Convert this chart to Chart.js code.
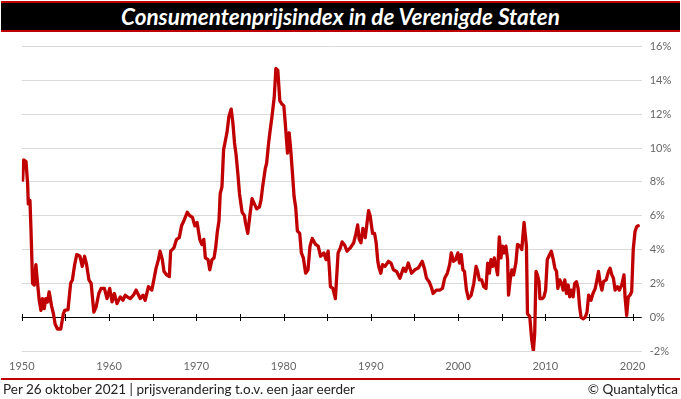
<!DOCTYPE html>
<html><head><meta charset="utf-8">
<script src="https://cdn.jsdelivr.net/npm/chart.js@4"></script>
<style>
html,body{margin:0;padding:0;background:#fff;}
#wrap{position:relative;width:681px;height:399px;overflow:hidden;font-family:Lato,sans-serif;}
#c{position:absolute;left:0;top:0;}
#title{position:absolute;left:1px;top:1px;width:679px;height:27px;background:#000;border-top:2px solid #c00000;border-bottom:2px solid #c00000;color:#fff;font:italic bold 22.5px Lato,sans-serif;text-align:center;line-height:27px;white-space:nowrap;}
#footline{position:absolute;left:1px;top:378px;width:679px;height:2px;background:#c00000;}
#foot{position:absolute;left:3px;top:380px;width:675px;height:19px;line-height:19px;font-size:13.5px;color:#222;white-space:nowrap;}
#foot span{position:absolute;right:0;top:0;}
</style></head>
<body>
<div id="wrap">
<canvas id="c" width="681" height="399"></canvas>
<div id="title">Consumentenprijsindex in de Verenigde Staten</div>
<div id="footline"></div>
<div id="foot">Per 26 oktober 2021 | prijsverandering t.o.v. een jaar eerder<span>© Quantalytica</span></div>
</div>
<script>
// plotted position along the year axis
const xPos = [
1950.10,1950.22,1950.49,1950.67,1950.75,1950.94,1951.05,1951.24,1951.43,1951.62,1951.81,
1952.00,1952.20,1952.38,1952.57,1952.76,1952.95,1953.14,1953.40,1953.63,1953.82,1954.09,
1954.47,1954.77,1954.93,1955.30,1955.60,1955.80,1956.06,1956.30,1956.67,1956.93,1957.20,
1957.43,1957.70,1957.95,1958.26,1958.52,1958.83,1959.09,1959.47,1959.77,1960.08,1960.35,
1960.61,1960.91,1961.29,1961.60,1961.86,1962.10,1962.43,1962.80,1963.11,1963.57,1963.90,
1964.14,1964.52,1964.90,1965.17,1965.39,1965.66,1965.85,1966.11,1966.30,1966.60,1966.91,
1967.06,1967.44,1967.74,1968.05,1968.31,1968.58,1968.96,1969.26,1969.56,1969.83,1970.09,
1970.40,1970.63,1970.86,1971.04,1971.35,1971.54,1971.80,1972.03,1972.22,1972.40,1972.60,
1972.74,1972.94,1973.13,1973.36,1973.54,1973.73,1974.00,1974.19,1974.38,1974.56,1974.76,
1974.95,1975.25,1975.52,1975.63,1975.90,1976.16,1976.39,1976.66,1976.92,1977.23,1977.41,
1977.60,1977.91,1978.06,1978.29,1978.43,1978.66,1978.93,1979.12,1979.34,1979.57,1979.80,
1980.03,1980.19,1980.45,1980.64,1980.82,1981.02,1981.21,1981.39,1981.58,1981.85,1982.04,
1982.27,1982.53,1982.80,1983.03,1983.29,1983.67,1983.97,1984.24,1984.62,1984.88,1985.11,
1985.26,1985.37,1985.65,1985.94,1986.25,1986.51,1986.71,1987.01,1987.27,1987.65,1988.04,
1988.30,1988.49,1988.67,1988.87,1989.09,1989.36,1989.55,1989.74,1989.92,1990.20,1990.43,
1990.61,1990.80,1990.95,1991.14,1991.34,1991.63,1992.02,1992.31,1992.59,1992.96,1993.34,
1993.73,1993.99,1994.29,1994.67,1995.04,1995.43,1995.89,1996.18,1996.38,1996.68,1996.95,
1997.14,1997.51,1997.89,1998.21,1998.46,1998.77,1999.03,1999.22,1999.48,1999.71,1999.98,
2000.16,2000.36,2000.55,2000.73,2000.96,2001.19,2001.50,2001.80,2002.06,2002.25,2002.44,
2002.71,2002.94,2003.20,2003.39,2003.58,2003.77,2003.96,2004.15,2004.34,2004.53,2004.72,
2004.91,2005.10,2005.28,2005.48,2005.67,2005.78,2005.97,2006.16,2006.36,2006.62,2006.81,
2007.10,2007.30,2007.56,2007.83,2007.95,2008.21,2008.44,2008.63,2008.78,2008.93,2009.09,
2009.27,2009.38,2009.65,2009.84,2010.03,2010.22,2010.40,2010.68,2010.91,2011.09,2011.28,
2011.43,2011.66,2011.85,2012.04,2012.23,2012.42,2012.61,2012.79,2012.99,2013.18,2013.36,
2013.56,2013.75,2013.93,2014.09,2014.32,2014.58,2014.77,2014.96,2015.23,2015.46,2015.72,
2015.91,2016.09,2016.29,2016.48,2016.66,2016.97,2017.23,2017.42,2017.62,2017.80,2017.99,
2018.25,2018.48,2018.75,2019.01,2019.13,2019.32,2019.50,2019.70,2019.89,2020.07,2020.27,
2020.46,2020.64
];
// year-on-year CPI change, %
const cpi = [
8.1,9.3,9.2,7.9,6.7,6.9,5.3,2.0,1.9,3.1,2.0,
1.0,0.4,1.1,0.5,1.1,0.9,1.5,0.7,0.2,-0.4,-0.7,
-0.7,0.2,0.4,0.45,2.0,2.2,3.1,3.7,3.6,3.0,3.6,
3.1,2.2,2.0,0.3,0.6,1.4,1.7,1.7,1.1,1.7,0.9,
1.4,0.8,1.2,1.0,1.3,1.2,1.1,1.3,1.6,1.1,1.3,
1.0,1.8,1.6,2.3,2.9,3.4,3.9,3.4,2.7,2.5,2.4,
3.9,4.1,4.6,4.7,5.4,5.7,6.2,6.0,5.9,5.4,5.6,
4.6,4.3,4.6,3.5,3.4,2.8,3.4,3.5,4.1,5.0,5.7,
7.3,7.7,9.9,10.5,11.0,11.85,12.3,11.5,10.3,9.6,8.5,
7.3,6.2,6.0,5.6,4.95,6.1,7.0,6.7,6.4,6.5,6.9,
7.7,8.8,9.1,10.3,10.9,11.8,13.0,14.7,14.6,12.8,12.6,
12.5,11.5,9.7,10.9,9.9,8.5,7.1,6.5,5.1,4.95,3.8,
3.5,2.6,2.8,4.2,4.65,4.3,4.2,3.6,3.8,3.4,3.9,
2.8,1.8,1.7,1.1,3.8,4.1,4.45,4.25,3.9,4.1,4.4,
4.95,5.45,4.6,4.4,5.25,4.7,5.5,6.3,6.0,4.95,4.95,
4.4,3.3,2.9,2.6,3.1,3.0,3.3,3.2,2.8,2.7,2.3,
2.9,2.7,3.2,2.6,2.8,2.9,3.3,2.8,2.3,2.1,1.75,
1.4,1.6,1.6,1.7,2.3,2.6,3.1,3.8,3.3,3.4,3.8,
3.2,3.7,2.8,2.7,1.6,1.1,1.3,2.0,3.0,2.7,2.2,
2.2,1.8,1.7,3.2,2.6,3.4,3.0,3.5,3.0,2.5,4.75,
3.5,4.2,3.8,4.2,3.4,1.3,2.2,2.8,2.5,3.2,4.3,
4.2,4.0,5.6,4.2,0.2,0.05,-1.35,-2.0,-0.95,2.7,2.5,
2.1,1.1,1.1,1.2,1.6,3.4,3.6,3.9,3.4,2.9,2.7,
1.7,2.2,2.0,1.6,2.2,1.4,1.9,1.2,1.6,1.2,2.0,
2.1,1.7,0.6,0.0,-0.1,0.0,0.3,1.3,1.0,1.4,1.7,
2.2,2.7,2.0,1.6,2.1,2.2,2.7,2.9,2.5,2.3,1.6,
1.8,1.6,1.9,2.5,1.2,0.1,1.2,1.3,1.5,4.0,5.05,
5.35,5.4
];
const yearTicks = [1950,1960,1970,1980,1990,2000,2010,2020];
const zeroTicks = [1950,1955,1960,1965,1970,1975,1980,1985,1990,1995,2000,2005,2010,2015,2020];
const yMin = -2, yMax = 16, yStep = 2;

const zeroLine = {
  id:'zeroLine',
  beforeDatasetsDraw(chart){
    const {ctx, scales:{x, y}} = chart;
    const y0 = Math.round(y.getPixelForValue(0)) + 0.5;
    ctx.save();
    ctx.strokeStyle = '#000';
    ctx.lineWidth = 1;
    ctx.beginPath();
    ctx.moveTo(x.left, y0);
    ctx.lineTo(x.right, y0);
    zeroTicks.forEach(v => {
      const px = Math.round(x.getPixelForValue(v)) + 0.5;
      ctx.moveTo(px, y0 - 3.5);
      ctx.lineTo(px, y0 + 3.5);
    });
    ctx.stroke();
    ctx.restore();
  }
};

function make(){
  const tickFont = {family:'Lato', size:11};
  new Chart(document.getElementById('c'), {
    type:'line',
    data:{datasets:[{
      data: xPos.map((x, i) => ({x, y: cpi[i]})),
      borderColor:'#c00000', borderWidth:3.3, pointRadius:0, tension:0,
      borderJoinStyle:'round', borderCapStyle:'round', fill:false
    }]},
    options:{
      responsive:false, animation:false, events:[],
      layout:{padding:{left:17.4, top:46.5, right:0, bottom:0}},
      plugins:{legend:{display:false}, tooltip:{enabled:false}, title:{display:false}},
      scales:{
        x:{
          type:'linear', min:1950, max:2021.04,
          grid:{display:false, drawTicks:false}, border:{display:false},
          afterBuildTicks: s => { s.ticks = yearTicks.map(v => ({value:v})); },
          afterFit: s => { s.height = 48; },
          ticks:{padding:9, color:'#666', font:tickFont, maxRotation:0, autoSkip:false,
                 callback: v => String(v)}
        },
        y:{
          position:'right', min:yMin, max:yMax,
          grid:{color:'#d9d9d9', drawTicks:false, lineWidth:1}, border:{display:false},
          afterFit: s => { s.width = 39.3; },
          ticks:{stepSize:yStep, padding:8, color:'#666', font:tickFont,
                 callback: v => v + '%'}
        }
      }
    },
    plugins:[zeroLine]
  });
}
Promise.all([
  document.fonts.load('11px Lato'),
  document.fonts.load('italic bold 22.5px Lato')
]).then(make, make);
</script>
</body></html>
